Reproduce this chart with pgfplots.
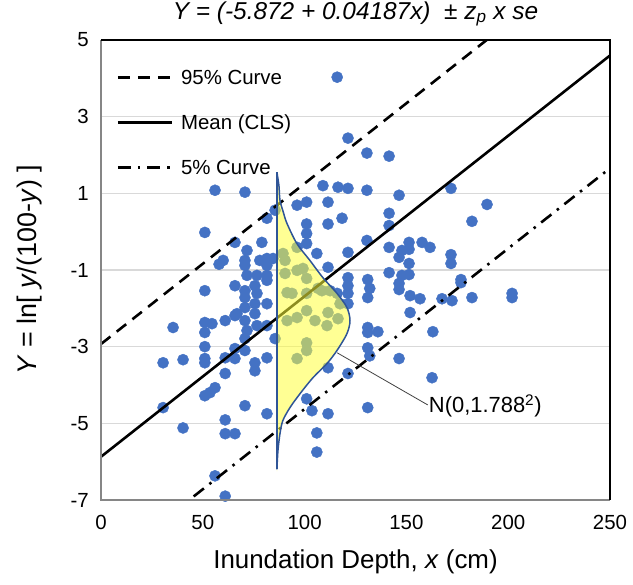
\documentclass[border=0pt]{standalone}
\usepackage{fontspec}
\setmainfont{Liberation Sans}
\usepackage{pgfplots}
\pgfplotsset{compat=1.18}
\definecolor{ptblue}{RGB}{68,114,196}
\definecolor{bellfill}{RGB}{255,255,60}
\definecolor{bellline}{RGB}{47,85,151}
\definecolor{gridgray}{RGB}{217,217,217}
\definecolor{axgray}{RGB}{134,134,134}

\begin{document}
\begin{tikzpicture}
\path[use as bounding box] (-101bp,-85bp) rectangle (532bp,500bp);
\begin{axis}[
    scale only axis,
    width=509bp, height=460bp,
    xmin=0, xmax=250,
    ymin=-7, ymax=5,
    xtick={0,50,...,250},
    ytick={-7,-5,...,5},
    ymajorgrids=true,
    grid style={gridgray, line width=1.2bp},
    major tick length=0pt,
    axis line style={draw=none},
    clip mode=individual,
    tick label style={font=\fontsize{20.5}{24}\selectfont},
    /pgf/number format/assume math mode=true,
    xticklabel style={anchor=center, yshift=-22bp},
    yticklabel style={anchor=east, inner sep=0pt, xshift=-12bp},
    title={\itshape Y = (-5.872 + 0.04187x)\ \ ± z\textsubscript{p} x se},
    every axis title/.style={at={(axis description cs:0.5,1.0565)}, anchor=center, font=\fontsize{24.5}{28}\selectfont},
    xlabel={Inundation Depth, \textit{x} (cm)},
    every axis x label/.style={at={(axis description cs:0.5,-0.135)}, anchor=center, font=\fontsize{26}{30}\selectfont},
    ylabel={\textit{Y} = ln[ \textit{y}/(100-\textit{y}) ]},
    every axis y label/.style={at={(axis description cs:-0.1395,0.5)}, rotate=90, anchor=center, font=\fontsize{27}{31}\selectfont},
    legend style={at={(axis description cs:0.03,0.94)}, anchor=north west, draw=none, fill=none,
        font=\fontsize{20.5}{24}\selectfont, row sep=25bp, column sep=6bp, inner sep=0pt},
    legend cell align=left,
    legend image code/.code={\draw[#1] (0bp,0bp) -- (54bp,0bp);},
]

% observed points
\addplot[only marks, mark=*, mark size=5.6bp, color=ptblue, forget plot] coordinates {
(116,4.03) (121.3,2.44) (130.6,2.05) (56,1.08) (70.7,1.03) (109,1.2) (116.4,1.16)
(121.3,1.13) (130.6,1.08) (51,-0.02) (96.3,0.69) (101,0.77) (111.5,0.77) (85.5,0.56)
(81.5,0.35) (101,0.2) (111.5,0.2) (118.4,0.35) (101,-0.05) (65.8,-0.28) (79,-0.28)
(71.7,-0.49) (70.7,-0.75) (60,-0.75) (58,-0.85) (78,-0.75) (81.5,-0.7) (84.5,-0.7)
(96.3,-0.41) (101,-0.31) (106,-0.57) (121.3,-0.54) (111.5,-0.93) (130.6,-0.23) (90.4,-0.75)
(141.5,1.97) (146.4,0.95) (171.9,1.13) (189.6,0.71) (182.2,0.27) (141.5,0.48) (141.5,0.16)
(141.5,-0.41) (151.3,-0.28) (157.7,-0.28) (161.6,-0.41) (147.8,-0.49) (146.4,-0.67)
(151.3,-0.46) (151.3,-0.83) (171.9,-0.6) (171.9,-0.83) (141.5,-1.07) (147.8,-1.14)
(151.3,-1.12) (131,-1.25) (176.8,-1.25) (132,-1.48) (131,-1.72) (146.4,-1.35) (146.4,-1.51)
(151.8,-1.67) (156.7,-1.75) (167.5,-1.75) (172.4,-1.8) (176.8,-1.33) (182.2,-1.72)
(201.9,-1.61) (201.9,-1.72) (151.8,-2.11) (163,-2.61) (131,-2.5) (131,-2.63) (136,-2.61)
(131,-3.03) (132,-3.24) (146.4,-3.31) (162.6,-3.81) (131,-4.59)
(51,-1.54) (35.4,-2.5) (30.5,-3.42) (40.3,-3.34) (51,-2.37) (51,-2.63) (54.5,-2.4)
(51,-3.0) (51,-3.31) (51,-3.42) (61,-2.32) (65.8,-2.19) (70.7,-2.32) (61,-3.29)
(65.8,-3.31) (70.7,-3.1) (75.6,-3.42) (61,-3.7) (75.6,-3.63) (70.7,-2.79) (81.5,-3.29)
(85.5,-2.79) (65.8,-3.05) (56,-4.07) (53.5,-4.2) (51,-4.28) (30.5,-4.59) (40.3,-5.12)
(61,-4.91) (61,-5.27) (65.8,-5.27) (70.7,-4.54) (81.5,-4.75) (56,-6.37) (61,-6.9)
(101,-4.36) (103.6,-4.67) (111.5,-4.75) (106,-5.25) (106,-5.75) (111.5,-3.55) (121.3,-3.7)
(96.3,-3.31) (101,-2.9) (101,-3.1) (91.4,-2.32) (96.3,-2.24) (101,-2.06) (105.1,-2.32)
(111,-2.45) (116.4,-2.27) (111.5,-2.11) (91.4,-1.59) (93.8,-1.61) (101,-1.61) (106.6,-1.48)
(112.5,-1.54) (117.4,-1.88) (116,-1.61) (96.3,-1.01) (101,-1.22) (121.3,-1.2) (121.3,-1.41)
(121.3,-1.61) (121.3,-1.88) (65.8,-1.41) (70.7,-1.54) (75.6,-1.41) (81.5,-1.27) (76.6,-1.61)
(70.7,-1.72) (75.6,-1.88) (70.7,-1.98) (75.6,-2.14) (81.5,-1.88) (76.6,-2.45) (81.5,-2.45)
(71.7,-2.58) (66.8,-2.14) (71.7,-1.14) (76.6,-1.14) (81.5,-1.14) (70.7,-0.88) (81.5,-0.88)
(89.4,-0.57) (90.4,-1.09) (99.2,-0.96) (108.5,-1.54)
};

\addplot[black, line width=2.6bp, dash pattern=on 12bp off 8bp] coordinates {(0,-2.931) (250,7.536)};
\addlegendentry{95\% Curve}
\addplot[black, line width=2.6bp] coordinates {(0,-5.872) (250,4.596)};
\addlegendentry{Mean (CLS)}
\addplot[black, line width=2.6bp, dash pattern=on 13bp off 7bp on 2.5bp off 7bp] coordinates {(0,-8.813) (250,1.655)};
\addlegendentry{5\% Curve}

% error distribution N(0,1.788^2)
\addplot[forget plot, smooth, draw=none, fill=bellfill, fill opacity=0.55] coordinates {
(86.4,1.55) (87.4,1.2) (87.9,0.82) (89.6,0.5) (91.3,0.22) (96.2,-0.31) (102.6,-0.75)
(109.0,-1.20) (115.9,-1.61) (120.8,-1.98) (122.3,-2.32) (120.8,-2.66) (115.9,-3.10)
(111.0,-3.44) (104.1,-3.81) (97.7,-4.23) (92.8,-4.59) (89.3,-4.93) (87.9,-5.27)
(86.9,-5.72) (86.4,-6.2) (86.4,-4) (86.4,-2) (86.4,0) (86.4,1.55)
};
\addplot[forget plot, smooth, draw=bellline, line width=1.5bp] coordinates {
(86.4,1.55) (87.4,1.2) (87.9,0.82) (89.6,0.5) (91.3,0.22) (96.2,-0.31) (102.6,-0.75)
(109.0,-1.20) (115.9,-1.61) (120.8,-1.98) (122.3,-2.32) (120.8,-2.66) (115.9,-3.10)
(111.0,-3.44) (104.1,-3.81) (97.7,-4.23) (92.8,-4.59) (89.3,-4.93) (87.9,-5.27)
(86.9,-5.72) (86.4,-6.2)
};
\addplot[forget plot, draw=bellline, line width=1.5bp] coordinates {(86.4,1.55) (86.4,-6.2)};

\draw[black!75, line width=0.8bp] (axis cs:116,-3.16) -- (axis cs:160.5,-4.52);
\node[anchor=west, inner sep=1bp, font=\fontsize{22}{26}\selectfont] at (axis cs:160.5,-4.55) {N(0,1.788\textsuperscript{2})};

% frame: grey left/bottom, black top/right
\draw[axgray, line width=2.5bp] (rel axis cs:0,1) -- (rel axis cs:0,0) -- (rel axis cs:1,0);
\draw[black, line width=2.5bp] (rel axis cs:0,1) -- (rel axis cs:1,1) -- (rel axis cs:1,0);
\end{axis}
\end{tikzpicture}
\end{document}
